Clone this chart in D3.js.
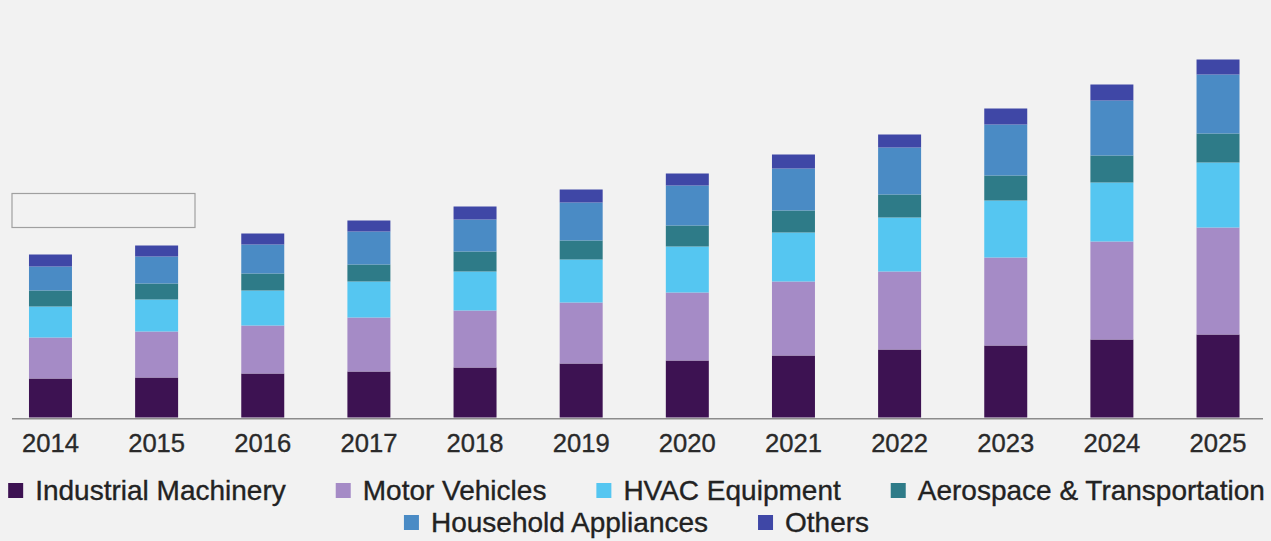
<!DOCTYPE html>
<html>
<head>
<meta charset="utf-8">
<script src="https://cdn.jsdelivr.net/npm/d3@7"></script>
<style>
  html, body { margin: 0; padding: 0; background: #f2f2f2; }
  svg { display: block; }
  text { font-family: "Liberation Sans", Arial, Helvetica, sans-serif; }
</style>
</head>
<body>
<svg id="chart" width="1271" height="541"></svg>
<script>
// Market size by application, 2014-2025
const years = ["2014","2015","2016","2017","2018","2019","2020","2021","2022","2023","2024","2025"];
const seriesNames = ["Industrial Machinery","Motor Vehicles","HVAC Equipment","Aerospace & Transportation","Household Appliances","Others"];
const industrialMachinery = [39, 40, 44, 46, 50, 54, 57, 62, 68, 72, 78, 83];
const motorVehicles       = [41, 46, 48, 54, 57, 61, 68, 74, 78, 88, 98, 107];
const hvacEquipment       = [31, 32, 35, 36, 39, 43, 46, 49, 54, 57, 59, 65];
const aerospaceTransport  = [16, 16, 17, 17, 20, 19, 21, 22, 23, 25, 27, 29];
const householdAppliances = [24, 27, 29, 33, 32, 38, 40, 42, 47, 51, 55, 59];
const others              = [12, 11, 11, 11, 13, 13, 12, 14, 13, 16, 16, 15];
const seriesColors = ["#3d1252","#a58bc6","#55c6f1","#2e7b88","#4a8bc5","#3f47a6"];

const seriesValues = [industrialMachinery, motorVehicles, hvacEquipment, aerospaceTransport, householdAppliances, others];
const rows = years.map((y, i) => {
  const r = { year: y };
  seriesNames.forEach((s, k) => { r[s] = seriesValues[k][i]; });
  return r;
});

const svg = d3.select("#chart");
svg.append("rect").attr("width", 1271).attr("height", 541).attr("fill", "#f2f2f2");

const baseY = 417.5;
const x = d3.scaleBand().domain(years).range([-2.6, 1271.1]).paddingInner(0.595).paddingOuter(0.2975);
const y = d3.scaleLinear().domain([0, 400]).range([baseY, baseY - 400]);
const color = d3.scaleOrdinal().domain(seriesNames).range(seriesColors);

const stacked = d3.stack().keys(seriesNames)(rows);

// empty title box in the upper left
svg.append("rect")
  .attr("x", 12).attr("y", 193.5).attr("width", 183).attr("height", 34)
  .attr("fill", "none").attr("stroke", "#a0a0a0").attr("stroke-width", 1.2);

// stacked bars
svg.append("g").selectAll("g").data(stacked).join("g")
  .attr("fill", d => color(d.key))
  .selectAll("rect").data(d => d).join("rect")
  .attr("x", d => x(d.data.year))
  .attr("width", x.bandwidth())
  .attr("y", d => y(d[1]))
  .attr("height", d => y(d[0]) - y(d[1]));

// category axis
const axisG = svg.append("g").attr("transform", `translate(0,${baseY})`);
axisG.call(d3.axisBottom(x).tickSize(0).tickPadding(0));
axisG.select(".domain").remove();
axisG.append("line")
  .attr("x1", 12).attr("x2", 1263).attr("y1", 1.2).attr("y2", 1.2)
  .attr("stroke", "#8c8c8c").attr("stroke-width", 1.6);
axisG.selectAll(".tick text")
  .attr("dy", null).attr("y", 34.5)
  .attr("font-size", 25.6).attr("fill", "#2a2a2a")
  .attr("stroke", "#2a2a2a").attr("stroke-width", 0.35)
  .attr("font-family", "'Liberation Sans', Arial, sans-serif");

// legend, two centred rows
const legendRows = [seriesNames.slice(0, 4), seriesNames.slice(4)];
const baselines = [500, 532];
const sq = 15, sqGap = 12, itemGap = 50;
legendRows.forEach((names, r) => {
  const g = svg.append("g");
  const items = names.map(n => {
    const ig = g.append("g");
    ig.append("rect").attr("width", sq).attr("height", sq)
      .attr("y", baselines[r] - 17).attr("fill", color(n));
    const t = ig.append("text").text(n)
      .attr("x", sq + sqGap).attr("y", baselines[r])
      .attr("font-size", 28).attr("fill", "#222")
      .attr("stroke", "#222").attr("stroke-width", 0.35);
    return { g: ig, w: sq + sqGap + t.node().getComputedTextLength() };
  });
  const total = d3.sum(items, d => d.w) + itemGap * (items.length - 1);
  let cx = (1271 - total) / 2 + 1;
  items.forEach(it => { it.g.attr("transform", `translate(${cx},0)`); cx += it.w + itemGap; });
});
</script>
</body>
</html>
